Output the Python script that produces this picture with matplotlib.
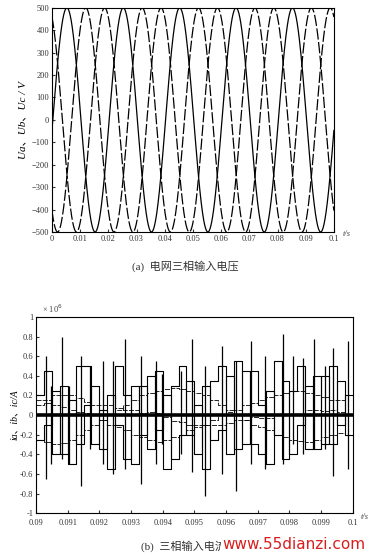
import numpy as np
import matplotlib
matplotlib.use("Agg")
import matplotlib.pyplot as plt

plt.rcParams['font.family'] = ['Liberation Serif', 'Noto Sans CJK SC']

# ---------------------------------------------------------------------------
# (a) three-phase input voltage
# ---------------------------------------------------------------------------
u_amp = 500                          # V
u_freq = 50                          # Hz
u_peak_times = [0.0053, 0.0120, 0.0187]   # first crest of Ua, Ub, Uc (s)
u_styles = ['-', (0, (9, 2)), (0, (9, 2))]
top_xticks = [0, 0.01, 0.02, 0.03, 0.04, 0.05, 0.06, 0.07, 0.08, 0.09, 0.1]
top_xlabels = ['0', '0.01', '0.02', '0.03', '0.04', '0.05', '0.06', '0.07', '0.08', '0.09', '0.1']
top_yticks = [-500, -400, -300, -200, -100, 0, 100, 200, 300, 400, 500]

# ---------------------------------------------------------------------------
# (b) three-phase input current, step values every 0.25 ms from 0.09 s
# ---------------------------------------------------------------------------
step_dt = 0.00025
ia_steps = [0.2, 0.45, -0.4, 0.3, -0.5, 0.5, 0.5, -0.3, 0.05, -0.55,
            0.5, 0.2, -0.5, 0.3, -0.35, 0.45, -0.55, 0.3, 0.5, -0.2,
            0.1, -0.55, 0.35, 0.5, -0.4, 0.55, -0.3, 0.45, 0.1, -0.5,
            0.55, -0.45, 0.25, 0.5, -0.35, 0.4, -0.3, 0.5, -0.1, 0.2]
ib_steps = [-0.25, -0.1, 0.25, -0.4, 0.15, -0.3, 0.1, 0.3, -0.35, 0.2,
            -0.1, -0.45, 0.3, -0.2, 0.4, -0.15, 0.2, -0.45, -0.2, 0.35,
            -0.4, 0.3, -0.25, -0.15, 0.4, -0.35, 0.45, -0.3, -0.4, 0.25,
            -0.2, 0.35, -0.4, -0.1, 0.3, -0.35, 0.4, -0.3, 0.35, -0.2]
env1 = [-0.25, -0.27, -0.3, -0.28, -0.25, -0.2, -0.15, -0.1, -0.05, 0.0,
        0.05, 0.1, 0.15, 0.2, 0.22, 0.25, 0.27, 0.28, 0.27, 0.25,
        0.22, 0.2, 0.15, 0.1, 0.05, 0.0, -0.05, -0.1, -0.12, -0.15,
        -0.2, -0.22, -0.25, -0.26, -0.27, -0.25, -0.22, -0.2, -0.18, -0.2]
env2 = [0.1, 0.12, 0.1, 0.08, 0.05, 0.03, 0.02, 0.0, -0.05, -0.1,
        -0.12, -0.15, -0.2, -0.22, -0.25, -0.27, -0.25, -0.22, -0.2, -0.15,
        -0.12, -0.1, -0.05, 0.0, 0.03, 0.05, 0.1, 0.12, 0.15, 0.18,
        0.2, 0.22, 0.25, 0.25, 0.22, 0.2, 0.18, 0.15, 0.15, 0.2]
env3 = [0.15, 0.15, 0.2, 0.2, 0.2, 0.17, 0.13, 0.1, 0.1, 0.1,
        0.07, 0.05, 0.05, 0.02, 0.03, 0.02, -0.02, -0.06, -0.07, -0.1,
        -0.1, -0.1, -0.1, -0.1, -0.08, -0.05, -0.05, -0.02, -0.03, -0.03,
        0.0, 0.0, 0.0, 0.01, 0.05, 0.05, 0.04, 0.05, 0.03, 0.0]

# switching spikes: time, top, bottom
spike_t = [0.09032, 0.09047, 0.09083, 0.09105, 0.09141, 0.09172, 0.09212,
           0.09244, 0.09282, 0.09333, 0.09380, 0.09398, 0.09459, 0.09491,
           0.09533, 0.09587, 0.09632, 0.09680, 0.09722, 0.09779, 0.09811,
           0.09842, 0.09877, 0.09911, 0.09937, 0.09984]
spike_hi = [0.6, 0.3, 0.8, 0.3, 0.6, 0.5, 0.55, 0.55, 0.78, 0.6, 0.55, 0.42,
            0.45, 0.78, 0.5, 0.7, 0.55, 0.75, 0.6, 0.83, 0.6, 0.58, 0.78,
            0.5, 0.68, 0.75]
spike_lo = [-0.65, -0.5, -0.45, -0.5, -0.72, -0.35, -0.5, -0.6, -0.55, -0.7,
            -0.5, -0.3, -0.4, -0.58, -0.82, -0.6, -0.77, -0.5, -0.55, -0.5,
            -0.3, -0.4, -0.35, -0.35, -0.62, -0.55]

bot_xticks = [0.09, 0.091, 0.092, 0.093, 0.094, 0.095, 0.096, 0.097, 0.098, 0.099, 0.1]
bot_xlabels = ['0.09', '0.091', '0.092', '0.093', '0.094', '0.095', '0.096',
               '0.097', '0.098', '0.099', '0.1']
bot_yticks = [-1, -0.8, -0.6, -0.4, -0.2, 0, 0.2, 0.4, 0.6, 0.8, 1]
bot_ylabels = ['-1', '-0.8', '-0.6', '-0.4', '-0.2', '0', '0.2', '0.4', '0.6', '0.8', '1']

# ---------------------------------------------------------------------------
# Plot
# ---------------------------------------------------------------------------
fig = plt.figure(figsize=(3.71, 5.59), dpi=100)

ax1 = fig.add_axes([0.140, 0.585, 0.760, 0.401])
t = np.linspace(0, 0.1, 3000)
for tp, ls in zip(u_peak_times, u_styles):
    ax1.plot(t, u_amp * np.cos(2 * np.pi * u_freq * (t - tp)), color='black',
             lw=0.9, linestyle=ls)
ax1.set_xlim(0, 0.1)
ax1.set_ylim(-500, 500)
ax1.set_xticks(top_xticks)
ax1.set_xticklabels(top_xlabels)
ax1.set_yticks(top_yticks)
ax1.tick_params(direction='in', length=2, labelsize=6, colors='#333333', pad=2)
ax1.set_ylabel('Ua、Ub、Uc / V', fontsize=8, labelpad=3, style='italic')
ax1.text(1.03, -0.02, 't/s', transform=ax1.transAxes, fontsize=6, style='italic',
         color='#444444')
fig.text(0.50, 0.517, '(a)  电网三相输入电压', ha='center', fontsize=8, color='#333333')

ax2 = fig.add_axes([0.097, 0.082, 0.854, 0.351])
ts = 0.09 + step_dt * np.arange(len(ia_steps) + 1)
ax2.plot(ts, ia_steps + ia_steps[-1:], drawstyle='steps-post', color='black', lw=0.8)
ax2.plot(ts, ib_steps + ib_steps[-1:], drawstyle='steps-post', color='black', lw=0.8)
for env in (env1, env2, env3):
    ax2.plot(ts, env + env[-1:], drawstyle='steps-post', color='black', lw=0.6,
             linestyle=(0, (6, 1.5)))
ax2.vlines(spike_t, spike_lo, spike_hi, color='black', lw=0.9)
ax2.axhline(0, color='black', lw=2.6)
ax2.set_xlim(0.09, 0.1)
ax2.set_ylim(-1, 1)
ax2.set_xticks(bot_xticks)
ax2.set_xticklabels(bot_xlabels)
ax2.set_yticks(bot_yticks)
ax2.set_yticklabels(bot_ylabels)
ax2.tick_params(axis='x', direction='in', length=2, labelsize=6, colors='#333333', pad=4)
ax2.tick_params(axis='y', direction='in', length=2, labelsize=6, colors='#333333', pad=2)
ax2.set_ylabel('ia、ib、ic/A', fontsize=7, labelpad=1, style='italic')
ax2.text(0.02, 1.02, '× 10$^6$', transform=ax2.transAxes, fontsize=6, color='#444444')
ax2.text(1.025, -0.03, 't/s', transform=ax2.transAxes, fontsize=6, style='italic',
         color='#444444')
fig.text(0.38, 0.017, '(b)  三相输入电流', ha='left', fontsize=8, color='#333333')
fig.text(0.985, 0.017, 'www.55dianzi.com', ha='right', fontsize=11, color='#d81e1e',
         family='DejaVu Sans',
         bbox=dict(facecolor='white', edgecolor='none', pad=1))

fig.savefig('out.png', dpi=100)
